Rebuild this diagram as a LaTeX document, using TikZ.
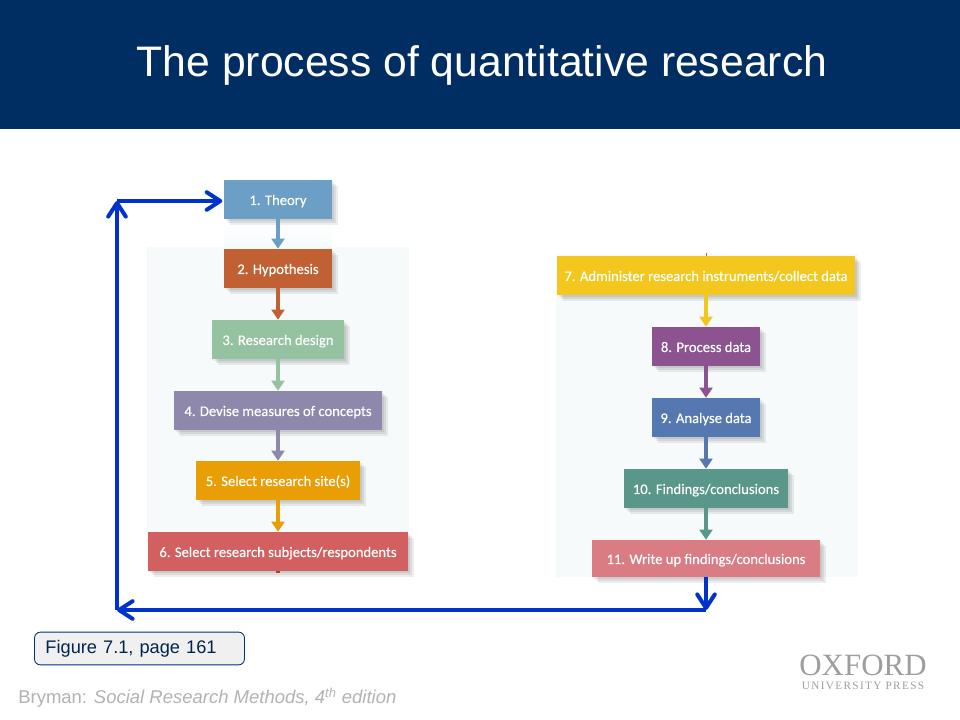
\documentclass[tikz,border=0pt]{standalone}
\usepackage{fontspec}
\setmainfont{Liberation Sans}
\newfontfamily\boxfont[FakeBold=0.35]{Carlito}
\newfontfamily\pressfont{Liberation Serif}
\newfontfamily\pressfontwide[LetterSpace=12]{Liberation Serif}
\usetikzlibrary{arrows.meta,shadows}
\definecolor{headerblue}{HTML}{002D62}
\definecolor{panelgray}{HTML}{F6FAFB}
\definecolor{loopblue}{HTML}{0033CC}
\definecolor{theorycol}{HTML}{6B9FC6}
\definecolor{hypocol}{HTML}{C06033}
\definecolor{designcol}{HTML}{95C2A0}
\definecolor{measurecol}{HTML}{8E88AC}
\definecolor{sitecol}{HTML}{E99E05}
\definecolor{subjectcol}{HTML}{D36060}
\definecolor{admincol}{HTML}{F4C71F}
\definecolor{processcol}{HTML}{8C5390}
\definecolor{analysecol}{HTML}{5578B0}
\definecolor{findingscol}{HTML}{58978A}
\definecolor{writecol}{HTML}{DA7C84}
\tikzset{
  softshadow/.style={drop shadow={shadow xshift=#1,shadow yshift=-#1,fill=black,opacity=0.07}},
  stagebox/.style={font=\boxfont\fontsize{10.4}{12}\selectfont,text=white,inner sep=0pt,minimum height=0.975cm,
    text height=8.8pt,text depth=1pt,softshadow=0.15cm,softshadow=0.1cm,softshadow=0.05cm},
  stagearrow/.style={-{Triangle[length=0.25cm,width=0.32cm]},line width=0.09cm},
  looparrow/.style={-{Straight Barb[length=0.34cm,width=0.44cm,line width=0.1cm,round]},loopblue,line width=0.105cm}
}
\begin{document}
\begin{tikzpicture}[x=0.025cm,y=-0.025cm]
      \useasboundingbox (0,0) rectangle (960,720);
      \fill[white] (0,0) rectangle (960,720);
      \fill[headerblue] (0,0) rectangle (960,129);
      \node[white,font=\fontsize{30.35}{36}\selectfont] (title) at (482,65) {The process of quantitative research};

      \fill[panelgray] (147,247) rectangle (409,572);
      \fill[panelgray] (556,254) rectangle (858,577);
      \shade[top color=white,bottom color=panelgray] (224,219) rectangle (332,247);
      \fill[hypocol] (705.5,253) rectangle (706.5,257);
      \fill[hypocol] (276,570) rectangle (280,573);

      \node[stagebox,fill=theorycol,minimum width=2.7cm] (theory) at (278,199.5) {1. Theory};
      \node[stagebox,fill=hypocol,minimum width=2.7cm] (hypothesis) at (278,268.5) {2. Hypothesis};
      \node[stagebox,fill=designcol,minimum width=3.3cm] (design) at (278,339.5) {3. Research design};
      \node[stagebox,fill=measurecol,minimum width=5.2cm] (measures) at (278,410.5) {4. Devise measures of concepts};
      \node[stagebox,fill=sitecol,minimum width=4.075cm] (site) at (278,480.5) {5. Select research site(s)};
      \node[stagebox,fill=subjectcol,minimum width=6.5cm] (subjects) at (278,551.5) {6. Select research subjects/respondents};

      \node[stagebox,fill=admincol,minimum width=7.45cm] (admin) at (706,275.5) {7. Administer research instruments/collect data};
      \node[stagebox,fill=processcol,minimum width=2.7cm] (process) at (706,346.5) {8. Process data};
      \node[stagebox,fill=analysecol,minimum width=2.7cm] (analyse) at (706,417.5) {9. Analyse data};
      \node[stagebox,fill=findingscol,minimum width=4.075cm] (findings) at (706,488.5) {10. Findings/conclusions};
      \node[stagebox,fill=writecol,minimum width=5.7cm,minimum height=0.925cm] (writeup) at (706,558.5) {11. Write up findings/conclusions};

      \draw[stagearrow,theorycol] (theory) -- (hypothesis);
      \draw[stagearrow,hypocol] (hypothesis) -- (design);
      \draw[stagearrow,designcol] (design) -- (measures);
      \draw[stagearrow,measurecol] (measures) -- (site);
      \draw[stagearrow,sitecol] (site) -- (subjects);
      \draw[stagearrow,admincol] (admin) -- (process);
      \draw[stagearrow,processcol] (process) -- (analyse);
      \draw[stagearrow,analysecol] (analyse) -- (findings);
      \draw[stagearrow,findingscol] (findings) -- (writeup);

      \coordinate (loopa) at (706,610);
      \coordinate (loopb) at (117,610);
      \coordinate (loopc) at (117,201);
      \draw[looparrow] (writeup.south) -- (loopa);
      \draw[looparrow] (loopa) -- (loopb);
      \draw[looparrow] (loopb) -- (loopc);
      \draw[looparrow,shorten >=1pt] (loopc) -- (loopc -| theory.west);

      \node[draw=headerblue!70!loopblue,fill=black!6,rounded corners=0.15cm,line width=0.6pt,minimum height=0.82cm,text height=9.5pt,text depth=2.5pt,
        text width=4.7cm,inner xsep=0.275cm,inner ysep=0pt,align=left,text=headerblue!80!black,font=\fontsize{12.95}{15}\selectfont] (figure) at (139.5,648.5) {Figure 7.1, page 161};
      \node[anchor=west,inner sep=0pt,text=black!30,font=\fontsize{13.15}{15}\selectfont] (source) at (18,698) {Bryman: \textit{Social Research Methods, 4\textsuperscript{th} edition}};

      \node[anchor=center,inner sep=0pt,text=black!38,font=\pressfont\fontsize{22}{24}\selectfont] (oxford) at (863,665) {OXFORD};
      \node[anchor=center,inner sep=0pt,text=black!38,font=\pressfontwide\fontsize{8}{9}\selectfont] (press) at (863,685.5) {UNIVERSITY PRESS};
\end{tikzpicture}
\end{document}
